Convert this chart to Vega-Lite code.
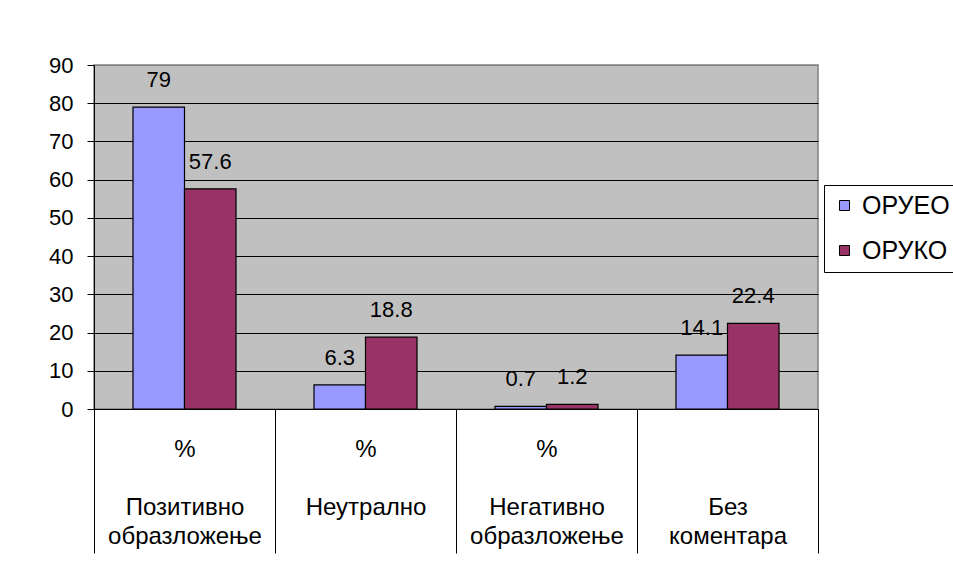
{
  "$schema": "https://vega.github.io/schema/vega-lite/v6.json",
  "width": 724,
  "height": 344,
  "autosize": {"type": "none"},
  "padding": {"left": 94, "top": 65, "right": 135, "bottom": 156},
  "background": "white",
  "data": {
    "values": [
      {"cat": "Позитивно образложење", "series": "ОРУЕО", "value": 79},
      {"cat": "Позитивно образложење", "series": "ОРУКО", "value": 57.6},
      {"cat": "Неутрално", "series": "ОРУЕО", "value": 6.3},
      {"cat": "Неутрално", "series": "ОРУКО", "value": 18.8},
      {"cat": "Негативно образложење", "series": "ОРУЕО", "value": 0.7},
      {"cat": "Негативно образложење", "series": "ОРУКО", "value": 1.2},
      {"cat": "Без коментара", "series": "ОРУЕО", "value": 14.1},
      {"cat": "Без коментара", "series": "ОРУКО", "value": 22.4}
    ]
  },
  "encoding": {
    "x": {
      "field": "cat",
      "type": "nominal",
      "sort": null,
      "scale": {"paddingInner": 0, "paddingOuter": 0},
      "axis": {
        "title": null,
        "labelAngle": 0,
        "domainColor": "black",
        "tickColor": "black",
        "tickSize": 144,
        "tickBand": "extent",
        "labelFontSize": 24,
        "labelFont": "Liberation Sans",
        "labelColor": "black",
        "labelLineHeight": 29,
        "labelBaseline": "alphabetic",
        "labelPadding": -97,
        "labelOverlap": false,
        "labelLimit": 200,
        "grid": false,
        "labelExpr": "!isString(datum.value) ? '' : datum.value == 'Без коментара' ? ['\u200b', '\u200b', 'Без', 'коментара'] : datum.value == 'Неутрално' ? ['%', '\u200b', 'Неутрално'] : ['%', '\u200b', split(datum.value, ' ')[0], split(datum.value, ' ')[1]]"
      }
    },
    "xOffset": {
      "field": "series",
      "sort": null,
      "scale": {"paddingInner": 0, "paddingOuter": 0.757}
    },
    "y": {
      "field": "value",
      "type": "quantitative",
      "scale": {"domain": [0, 90], "nice": false},
      "axis": {
        "title": null,
        "values": [0, 10, 20, 30, 40, 50, 60, 70, 80, 90],
        "domainColor": "black",
        "tickColor": "black",
        "tickSize": 7,
        "labelFontSize": 22,
        "labelFont": "Liberation Sans",
        "labelPadding": 14,
        "labelColor": "black",
        "grid": true,
        "gridColor": {"condition": {"test": "datum.value == 90", "value": "#808080"}, "value": "black"},
        "gridWidth": 1
      }
    }
  },
  "layer": [
    {
      "mark": {"type": "bar", "stroke": "black", "strokeWidth": 1.2},
      "encoding": {
        "color": {
          "field": "series",
          "type": "nominal",
          "sort": null,
          "scale": {"domain": ["ОРУЕО", "ОРУКО"], "range": ["#9999FF", "#993366"]},
          "legend": {
            "title": null,
            "orient": "none",
            "legendX": 730,
            "legendY": 120,
            "strokeColor": "black",
            "fillColor": "white",
            "padding": 8,
            "symbolType": "square",
            "symbolSize": 100,
            "symbolStrokeColor": "black",
            "symbolStrokeWidth": 1,
            "labelFontSize": 25,
            "labelFont": "Liberation Sans",
            "labelOffset": 5,
            "rowPadding": 19,
            "labelColor": "black",
            "labelLimit": 200
          }
        }
      }
    },
    {
      "mark": {"type": "text", "dy": -20, "baseline": "alphabetic", "fontSize": 22, "font": "Liberation Sans", "color": "black"},
      "encoding": {"text": {"field": "value", "type": "quantitative"}}
    }
  ],
  "config": {
    "view": {"fill": "#C0C0C0", "stroke": "#808080", "strokeWidth": 1.5},
    "font": "Liberation Sans"
  }
}
